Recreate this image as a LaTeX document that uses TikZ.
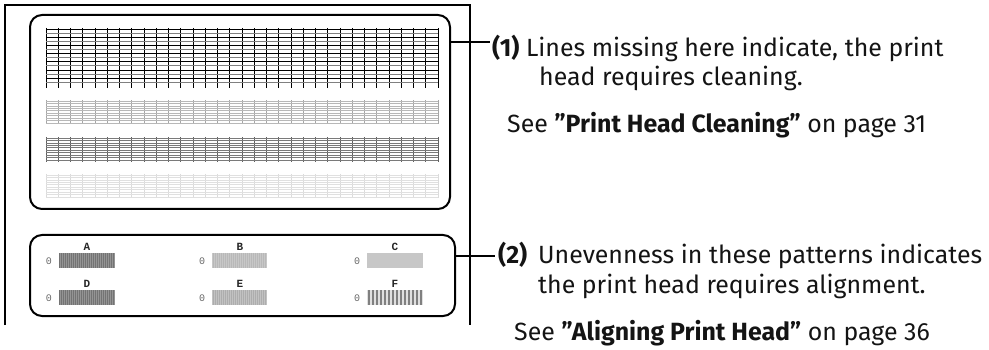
\documentclass[tikz,border=0pt]{standalone}
\usepackage{fontspec}
\setmainfont{Fira Sans}
\newfontfamily\monofont{Liberation Mono}
\begin{document}
\begin{tikzpicture}[x=1pt,y=-1pt,
  frame/.style={line width=1.6pt, draw=black},
  panel/.style={draw=black, line width=2pt, rounded corners=12pt, inner sep=0pt},
  leader/.style={line width=1.6pt, draw=black},
  txt/.style={anchor=base west, inner sep=0pt, font=\fontsize{24.9}{29}\selectfont, text=black!92},
  lbl/.style={font=\monofont\bfseries\fontsize{11}{11}\selectfont, inner sep=0pt, text=black!85},
  zero/.style={font=\monofont\fontsize{10}{10}\selectfont, inner sep=0pt, text=black!60}]
\useasboundingbox (0,0) rectangle (989,350);
% outer frame
\draw[frame] (5,325) -- (5,5) -- (470,5) -- (470,325);
% panels
\node[panel, minimum width=420pt, minimum height=194pt] (top) at (240,112) {};
\node[panel, minimum width=425pt, minimum height=81pt] (bot) at (242.5,275.5) {};
% band 1
\foreach \i in {0,...,32} \draw[black, line width=0.7pt] ({46+12.25*\i},28) -- ++(0,60);
\foreach \j in {0,2,...,12} \draw[black, line width=0.6pt] (46,{29+4.1*\j}) -- (438,{29+4.1*\j});
\foreach \j in {1,3,...,13} \draw[black!50, line width=1.1pt] (46,{29+4.1*\j}) -- (438,{29+4.1*\j});
% band 2
\foreach \i in {0,...,32} \draw[black!35, line width=0.7pt] ({46+12.25*\i},100) -- ++(0,24);
\foreach \j in {0,...,9} \draw[black!28, line width=0.6pt] (46,{101+2.45*\j}) -- (438,{101+2.45*\j});
% band 3
\foreach \i in {0,...,32} \draw[black!62, line width=0.7pt] ({46+12.25*\i},137) -- ++(0,25);
\foreach \j in {0,...,9} \draw[black!52, line width=0.6pt] (46,{138+2.45*\j}) -- (438,{138+2.45*\j});
% band 4
\foreach \i in {0,...,32} \draw[black!14, line width=0.7pt] ({46+12.25*\i},174) -- ++(0,24);
\foreach \j in {0,...,9} \draw[black!12, line width=0.6pt] (46,{175+2.45*\j}) -- (438,{175+2.45*\j});
% alignment patterns
\node[lbl] (la) at (87,247) {A};
\node[lbl] (lb) at (240,247) {B};
\node[lbl] (lc) at (395,247) {C};
\node[lbl] (ld) at (87,284) {D};
\node[lbl] (le) at (240,284) {E};
\node[lbl] (lf) at (395,284) {F};
\node[zero] (za) at (49,261) {0};
\node[zero] (zb) at (202,261) {0};
\node[zero] (zc) at (357,261) {0};
\node[zero] (zd) at (49,298) {0};
\node[zero] (ze) at (202,298) {0};
\node[zero] (zf) at (357,298) {0};
% A and D
\fill[black!55] (59,253) rectangle (115,268);
\fill[black!55] (59,290) rectangle (115,305);
\foreach \k in {0,...,27} {
  \draw[black!42, line width=0.5pt] ({60+2*\k},253) -- ++(0,15);
  \draw[black!42, line width=0.5pt] ({60+2*\k},290) -- ++(0,15);
}
% B and E
\fill[black!22] (212,253) rectangle (267,268);
\fill[black!24] (212,290) rectangle (267,305);
\foreach \k in {0,...,26} {
  \draw[black!28, line width=0.5pt] ({213+2*\k},253) -- ++(0,15);
  \draw[black!32, line width=0.5pt] ({213+2*\k},290) -- ++(0,15);
}
% C
\fill[black!22] (367,253) rectangle (423,268);
% F
\fill[black!12] (367,290) rectangle (423,305);
\foreach \k in {0,...,13} \fill[black!50] ({367.5+4*\k},290) rectangle ++(2,15);
% leaders
\coordinate (e1) at (490,42);
\coordinate (e2) at (495,256);
\draw[leader] (top.east |- e1) -- (e1);
\draw[leader] (bot.east |- e2) -- (e2);
% texts
\node[txt] (t1a) at (492,57) {\textbf{(1)} Lines missing here indicate, the print};
\node[txt] (t1b) at (539,86) {head requires cleaning.};
\node[txt] (t1c) at (507,133) {See \textbf{"Print Head Cleaning"} on page 31};
\node[txt] (n2) at (498,264) {\textbf{(2)}};
\node[txt] (t2a) at (538,264) {Unevenness in these patterns indicates};
\node[txt] (t2b) at (538,293) {the print head requires alignment.};
\node[txt] (t2c) at (514,340) {See \textbf{"Aligning Print Head"} on page 36};
\end{tikzpicture}
\end{document}
